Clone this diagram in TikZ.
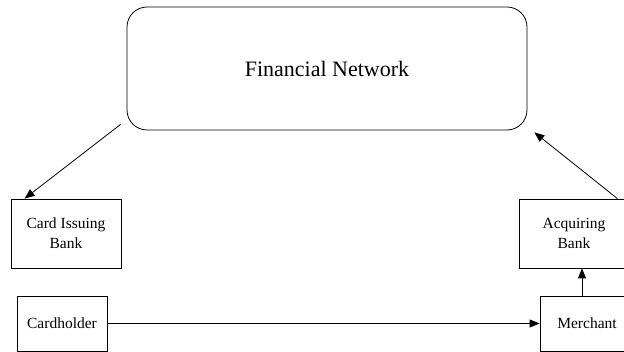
\documentclass[tikz,border=0pt]{standalone}
\usepackage{fontspec}
\setmainfont{Liberation Serif}
\usetikzlibrary{positioning,calc,arrows.meta}
\definecolor{ink}{HTML}{000000}
\tikzset{
  >={Triangle[length=10pt,width=8pt]},
  % --- nodes
  party/.style = {draw=ink, line width=0.8pt, fill=white, align=center,
                  inner sep=0pt, font=\fontsize{15.5}{20}\selectfont},
  hub/.style   = {party, rounded corners=20pt, font=\fontsize{22}{26}\selectfont},
  % --- edges
  e/.style     = {->, line width=0.8pt, draw=ink},
}
\begin{document}
\begin{tikzpicture}[x=1pt,y=-1pt]
  \clip (0,0) rectangle (624,352);
  \useasboundingbox (0,0) rectangle (624,352);

  % boxes
  \node[hub, minimum width=400pt, minimum height=123pt, text depth=-4pt] (net) at (327,68.5) {Financial Network};
  \node[party, minimum width=110pt, minimum height=69pt] (issuer) at (66,233.5) {Card Issuing\\Bank};
  \node[party, minimum width=90pt, minimum height=55pt] (holder) at (62,323.5) {Cardholder};
  \node[party, minimum width=110pt, minimum height=69pt] (acquirer) at (574,233.5) {Acquiring\\Bank};
  \node[party, minimum width=94pt, minimum height=55pt] (merchant) at (587,323.5) {Merchant};

  % loose arrow ends
  \coordinate (netL) at ($(net.south west)+(-6,-6)$);
  \coordinate (netR) at ($(net.south east)+(7,2)$);
  \coordinate (issuerT) at ($(issuer.north west)+(14,0)$);
  \coordinate (acqT) at ($(acquirer.north east)+(-12,0)$);
  \coordinate (acqB) at (acquirer.south -| 582,0);
  \coordinate (merT) at (merchant.north -| 582,0);

  % flows
  \draw[e] (netL) -- (issuerT);
  \draw[e] (acqT) -- (netR);
  \draw[e] (merT) -- (acqB);
  \draw[e] (holder.east) -- (merchant.west);
\end{tikzpicture}
\end{document}
